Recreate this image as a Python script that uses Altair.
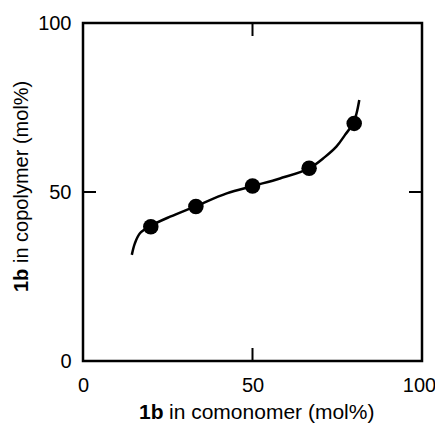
import altair as alt
import pandas as pd

# measured data points
comonomer = [20.0, 33.3, 50.0, 66.7, 80.0]
copolymer = [39.7, 45.7, 51.8, 57.0, 70.3]

# fitted curve
curve_x = [14.4, 15.3, 16.8, 19.8, 25.7, 33.0, 42.4, 50.2, 58.1, 66.7, 71.4, 74.8, 77.3, 79.7, 80.7, 81.5]
curve_y = [31.4, 34.8, 37.8, 39.9, 42.7, 45.7, 49.6, 51.8, 54.0, 57.0, 60.4, 63.5, 66.9, 70.3, 73.3, 77.2]

tick_labels = [0, 50, 100]
inner_ticks = [50]

x_title = ["1b", "in comonomer (mol%)"]
y_title = ["1b", "in copolymer (mol%)"]

W, H = 339, 338
FONT = "Liberation Sans"

xs = alt.Scale(domain=[0, 100], nice=False, zero=False)
ys = alt.Scale(domain=[0, 100], nice=False, zero=False)

x_axis = alt.Axis(values=tick_labels, title=None, ticks=False, domain=False, grid=False,
                  labelFontSize=20, labelFont=FONT, labelColor="black", labelPadding=14,
                  labelFlush=False,
                  labelOffset={"expr": "datum.value == 100 ? -3 : 0"})
y_axis = alt.Axis(values=tick_labels, title=None, ticks=False, domain=False, grid=False,
                  labelFontSize=20, labelFont=FONT, labelColor="black", labelPadding=12,
                  labelFlush=False)

curve_df = pd.DataFrame({"x": curve_x, "y": curve_y})
pts_df = pd.DataFrame({"x": comonomer, "y": copolymer})
tick_df = pd.DataFrame({"t": inner_ticks})

line = alt.Chart(curve_df).mark_line(color="black", strokeWidth=2.5, interpolate="catmull-rom").encode(
    x=alt.X("x:Q", scale=xs, axis=x_axis),
    y=alt.Y("y:Q", scale=ys, axis=y_axis),
)

points = alt.Chart(pts_df).mark_circle(size=240, color="black", opacity=1).encode(
    x=alt.X("x:Q", scale=xs),
    y=alt.Y("y:Q", scale=ys),
)

TL = 13
tick_bottom = alt.Chart(tick_df).mark_rule(color="black", strokeWidth=2).encode(
    x=alt.X("t:Q", scale=xs), y=alt.value(H), y2=alt.value(H - TL))
tick_top = alt.Chart(tick_df).mark_rule(color="black", strokeWidth=2).encode(
    x=alt.X("t:Q", scale=xs), y=alt.value(0), y2=alt.value(TL))
tick_left = alt.Chart(tick_df).mark_rule(color="black", strokeWidth=2).encode(
    y=alt.Y("t:Q", scale=ys), x=alt.value(0), x2=alt.value(TL))
tick_right = alt.Chart(tick_df).mark_rule(color="black", strokeWidth=2).encode(
    y=alt.Y("t:Q", scale=ys), x=alt.value(W), x2=alt.value(W - TL))

xt_bold = alt.Chart(pd.DataFrame({"t": [x_title[0]]})).mark_text(
    font=FONT, fontSize=21, fontWeight="bold", align="left", baseline="alphabetic", color="black"
).encode(text="t:N", x=alt.value(56), y=alt.value(396))
xt_reg = alt.Chart(pd.DataFrame({"t": [x_title[1]]})).mark_text(
    font=FONT, fontSize=21, align="left", baseline="alphabetic", color="black"
).encode(text="t:N", x=alt.value(86), y=alt.value(396))

yt_bold = alt.Chart(pd.DataFrame({"t": [y_title[0]]})).mark_text(
    font=FONT, fontSize=20, fontWeight="bold", align="left", baseline="alphabetic", angle=270, color="black"
).encode(text="t:N", x=alt.value(-55.5), y=alt.value(269))
yt_reg = alt.Chart(pd.DataFrame({"t": [y_title[1]]})).mark_text(
    font=FONT, fontSize=20, align="left", baseline="alphabetic", angle=270, color="black"
).encode(text="t:N", x=alt.value(-55.5), y=alt.value(240))

chart = alt.layer(
    line, points, tick_bottom, tick_top, tick_left, tick_right, xt_bold, xt_reg, yt_bold, yt_reg
).properties(
    width=W, height=H,
    background="white",
    autosize=alt.AutoSizeParams(type="none"),
    padding={"left": 75, "top": 15, "right": 13, "bottom": 62},
).configure_view(
    stroke="black", strokeWidth=2.5
)

chart.save("out.html", embed_options={"renderer": "svg", "actions": False})
